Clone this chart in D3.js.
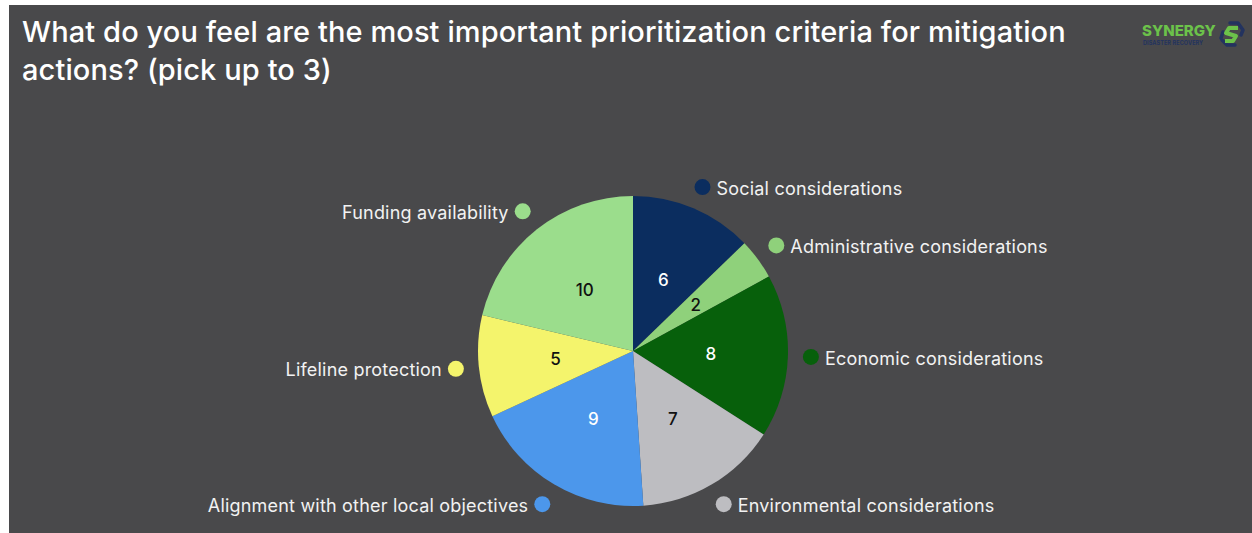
<!DOCTYPE html>
<html>
<head>
<meta charset="utf-8">
<script src="https://cdn.jsdelivr.net/npm/d3@7/dist/d3.min.js"></script>
<style>
  html, body { margin: 0; padding: 0; background: #ffffff; }
  svg { display: block; }
</style>
</head>
<body>
<svg id="chart" width="1252" height="533"></svg>
<script>
// Survey responses: prioritization criteria for mitigation actions
const categories = [
  "Social considerations",
  "Administrative considerations",
  "Economic considerations",
  "Environmental considerations",
  "Alignment with other local objectives",
  "Lifeline protection",
  "Funding availability"
];
const values = [6, 2, 8, 7, 9, 5, 10];
const sliceColors = ["#0b2d5f", "#8fd17b", "#07600b", "#bdbdc1", "#4c97eb", "#f4f46c", "#9bdd8c"];
const valueTextColors = ["#ffffff", "#111111", "#ffffff", "#111111", "#ffffff", "#111111", "#111111"];

const titleLines = [
  "What do you feel are the most important prioritization criteria for mitigation",
  "actions? (pick up to 3)"
];

const W = 1252, H = 533;
const svg = d3.select("#chart");
const font = "Inter, 'Noto Sans', sans-serif";

// Slide panel
svg.append("rect")
  .attr("x", 9).attr("y", 5)
  .attr("width", W - 9).attr("height", H - 5)
  .attr("fill", "#49494b");

// Title
svg.append("g").selectAll("text")
  .data(titleLines)
  .join("text")
  .attr("x", 22)
  .attr("y", (d, i) => 42 + i * 38)
  .attr("fill", "#ffffff")
  .attr("font-family", font)
  .attr("font-size", 29)
  .attr("font-weight", 500)
  .attr("letter-spacing", 0.1)
  .text(d => d);

// Logo
const logo = svg.append("g").attr("transform", "translate(1142,22)");
logo.append("text")
  .attr("x", 0).attr("y", 14)
  .attr("fill", "#6cc24a")
  .attr("font-family", font)
  .attr("font-size", 15)
  .attr("font-weight", 800)
  .text("SYNERGY");
logo.append("text")
  .attr("x", 1).attr("y", 23)
  .attr("fill", "#23335f")
  .attr("font-family", font)
  .attr("font-size", 5.5)
  .attr("font-weight", 700)
  .attr("letter-spacing", 0.1)
  .text("DISASTER RECOVERY");
const icon = logo.append("g").attr("transform", "translate(90,12)");
// navy hooks
icon.append("path")
  .attr("d", "M-2,-11 L6,-11 L11,-4 L9,1 M-11,4 L-9,-2 M-10,6 L-5,11 L3,11")
  .attr("fill", "none").attr("stroke", "#23335f").attr("stroke-width", 3.5)
  .attr("stroke-linejoin", "round").attr("stroke-linecap", "round");
// green S
icon.append("path")
  .attr("d", "M6,-6 L-3,-6 L-6,-1 L4,2 L1,7 L-7,7")
  .attr("fill", "none").attr("stroke", "#6cc24a").attr("stroke-width", 4)
  .attr("stroke-linejoin", "round");

// Pie
const cx = 633, cy = 351, radius = 155;
const g = svg.append("g").attr("transform", `translate(${cx},${cy})`);

const pie = d3.pie().sort(null).value(d => d.value);
const arcs = pie(categories.map((c, i) => ({ name: c, value: values[i], i })));

const arc = d3.arc().innerRadius(0).outerRadius(radius);
const valueArc = d3.arc().innerRadius(78).outerRadius(78);
const markerArc = d3.arc().innerRadius(178).outerRadius(178);

g.selectAll("path.slice")
  .data(arcs)
  .join("path")
  .attr("class", "slice")
  .attr("d", arc)
  .attr("fill", d => sliceColors[d.data.i]);

// Values inside slices
g.selectAll("text.value")
  .data(arcs)
  .join("text")
  .attr("class", "value")
  .attr("transform", d => `translate(${valueArc.centroid(d)})`)
  .attr("text-anchor", "middle")
  .attr("dy", "0.38em")
  .attr("fill", d => valueTextColors[d.data.i])
  .attr("font-family", font)
  .attr("font-size", 17)
  .attr("font-weight", 500)
  .text(d => d.data.value);

// Category labels with colour markers outside the pie
const labels = g.selectAll("g.label")
  .data(arcs)
  .join("g")
  .attr("class", "label")
  .attr("transform", d => `translate(${markerArc.centroid(d)})`);

labels.append("circle")
  .attr("r", 8)
  .attr("fill", d => sliceColors[d.data.i]);

labels.append("text")
  .attr("x", d => ((d.startAngle + d.endAngle) / 2 < Math.PI ? 14 : -14))
  .attr("dy", "0.42em")
  .attr("text-anchor", d => ((d.startAngle + d.endAngle) / 2 < Math.PI ? "start" : "end"))
  .attr("fill", "#f2f2f2")
  .attr("font-family", font)
  .attr("font-size", 18)
  .attr("letter-spacing", 0.2)
  .text(d => d.data.name);
</script>
</body>
</html>
